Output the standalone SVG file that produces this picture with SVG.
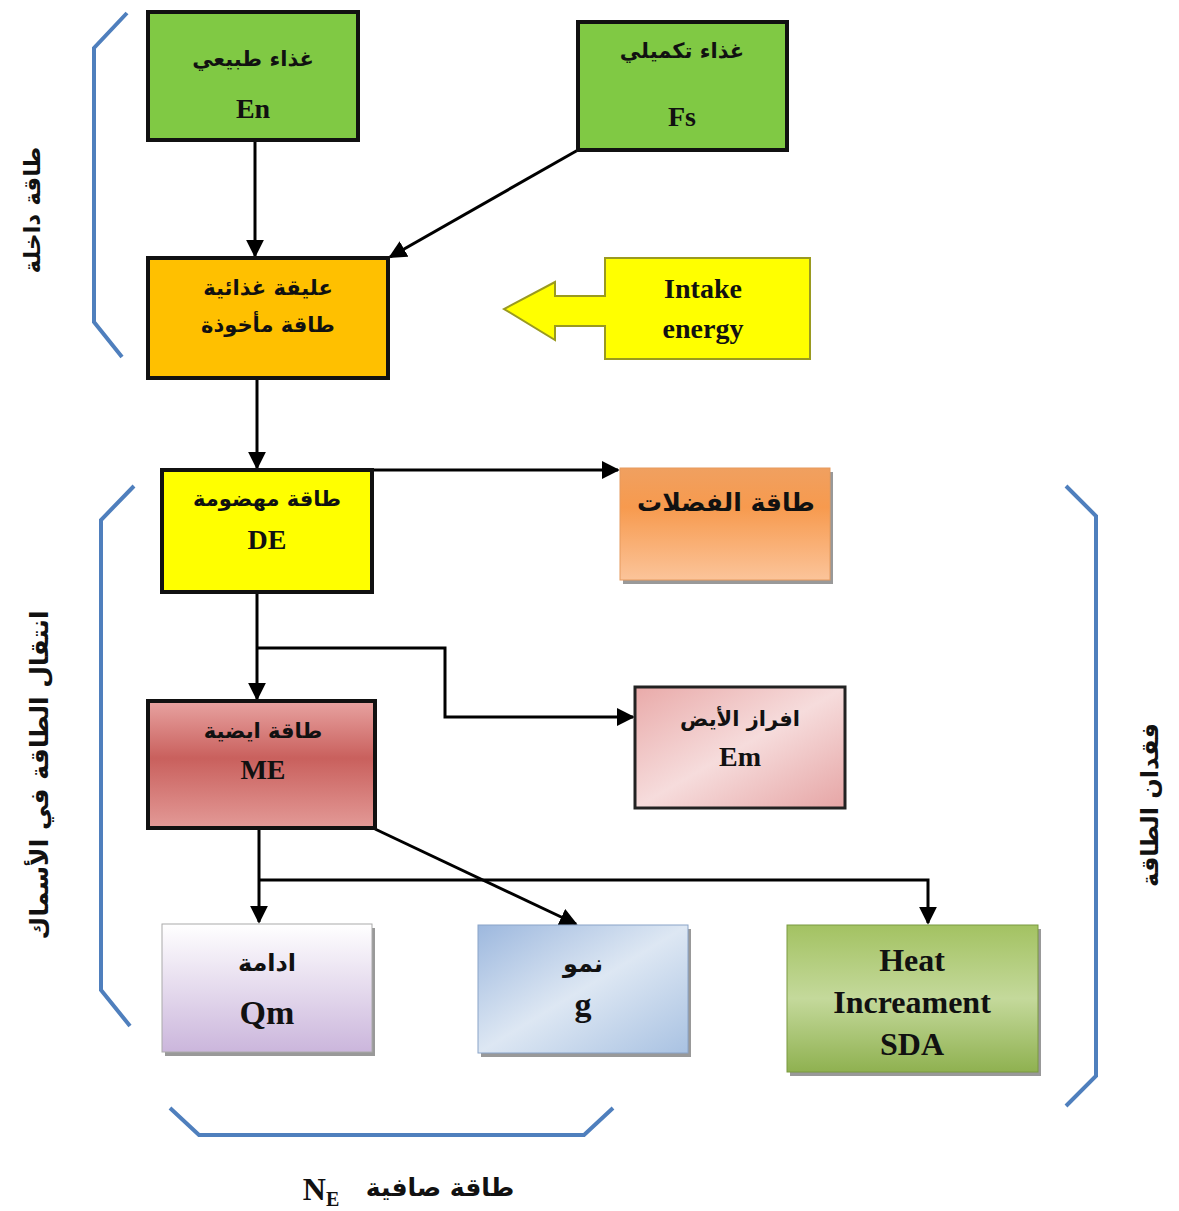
<svg xmlns="http://www.w3.org/2000/svg" width="1179" height="1211" viewBox="0 0 1179 1211">
<defs>
<marker id="ah" viewBox="0 0 10 10" refX="9" refY="5" markerWidth="6" markerHeight="6" orient="auto" markerUnits="strokeWidth"><path d="M0,0 L10,5 L0,10 z" fill="#000"/></marker>
<linearGradient id="gWaste" x1="0" y1="0" x2="0" y2="1"><stop offset="0" stop-color="#f0a060"/><stop offset="0.35" stop-color="#f79a4e"/><stop offset="1" stop-color="#fbc49a"/></linearGradient>
<linearGradient id="gME" x1="0" y1="0" x2="0" y2="1"><stop offset="0" stop-color="#e8a3a1"/><stop offset="0.45" stop-color="#c9605d"/><stop offset="1" stop-color="#e39a97"/></linearGradient>
<linearGradient id="gEm" x1="0" y1="0" x2="1" y2="1"><stop offset="0" stop-color="#e9aaa9"/><stop offset="0.5" stop-color="#f6dcdc"/><stop offset="1" stop-color="#e6a5a5"/></linearGradient>
<linearGradient id="gQm" x1="0" y1="0" x2="0" y2="1"><stop offset="0" stop-color="#ffffff"/><stop offset="1" stop-color="#cbb6dc"/></linearGradient>
<linearGradient id="gG" x1="0" y1="0" x2="1" y2="1"><stop offset="0" stop-color="#9db8de"/><stop offset="0.5" stop-color="#dde7f3"/><stop offset="1" stop-color="#a9c2e2"/></linearGradient>
<linearGradient id="gHeat" x1="0" y1="0" x2="0" y2="1"><stop offset="0" stop-color="#a3c262"/><stop offset="0.5" stop-color="#c4d99b"/><stop offset="1" stop-color="#8fb150"/></linearGradient>
</defs>
<style>
.box{stroke:#111;stroke-width:4}
.sh{fill:#555;opacity:0.6}
.ar{font-family:"DejaVu Sans","Noto Sans",sans-serif;font-weight:bold;fill:#111;text-anchor:middle}
.en{font-family:"Liberation Serif","Times New Roman",serif;font-weight:bold;fill:#111;text-anchor:middle}
.con{fill:none;stroke:#000;stroke-width:3}
.br{fill:none;stroke:#4f7fbd;stroke-width:4}
</style>
<rect width="1179" height="1211" fill="#fff"/>

<g id="brackets">
<path class="br" d="M127,13 L94,48 L94,322 L122,357"/>
<path class="br" d="M134,486 L101,520 L101,990 L130,1026"/>
<path class="br" d="M1066,486 L1096,516 L1096,1076 L1066,1106"/>
<path class="br" d="M170,1108 L199,1135 L584,1135 L613,1108"/>
</g>

<g id="side-labels">
<text class="ar" font-size="23" transform="translate(40,210) rotate(-90)">طاقة داخلة</text>
<text class="ar" font-size="25" transform="translate(48,775) rotate(-90)">انتقال الطاقة في الأسماك</text>
<text class="ar" font-size="24" transform="translate(1158,805) rotate(-90)">فقدان الطاقة</text>
<text class="ar" font-size="25" x="440" y="1196">طاقة صافية</text>
<text class="en" font-size="32" x="321" y="1200">N<tspan font-size="20" dy="6">E</tspan></text>
</g>

<g id="connectors">
<line class="con" x1="255" y1="141" x2="255" y2="256" marker-end="url(#ah)"/>
<line class="con" x1="578" y1="150" x2="390" y2="257" marker-end="url(#ah)"/>
<line class="con" x1="257" y1="379" x2="257" y2="468" marker-end="url(#ah)"/>
<line class="con" x1="372" y1="470" x2="618" y2="470" marker-end="url(#ah)"/>
<line class="con" x1="257" y1="593" x2="257" y2="699" marker-end="url(#ah)"/>
<polyline class="con" points="257,648 445,648 445,717 633,717" marker-end="url(#ah)"/>
<line class="con" x1="259" y1="829" x2="259" y2="922" marker-end="url(#ah)"/>
<polyline class="con" points="259,880 928,880 928,923" marker-end="url(#ah)"/>
<line class="con" x1="375" y1="829" x2="576" y2="924" marker-end="url(#ah)"/>
</g>

<g id="node-en">
<rect class="box" x="148" y="12" width="210" height="128" fill="#80c944"/>
<text class="ar" font-size="21" x="253" y="66">غذاء طبيعي</text>
<text class="en" font-size="28" x="253" y="118">En</text>
</g>

<g id="node-fs">
<rect class="box" x="578" y="22" width="209" height="128" fill="#80c944"/>
<text class="ar" font-size="21" x="682" y="58">غذاء تكميلي</text>
<text class="en" font-size="28" x="682" y="126">Fs</text>
</g>

<g id="node-intake">
<rect class="box" x="148" y="258" width="240" height="120" fill="#ffc000"/>
<text class="ar" font-size="21" x="268" y="295">عليقة غذائية</text>
<text class="ar" font-size="21" x="268" y="332">طاقة مأخوذة</text>
</g>

<g id="node-intake-energy">
<path d="M605,258 L810,258 L810,359 L605,359 L605,326 L555,326 L555,340 L504,309 L555,282 L555,296 L605,296 Z" fill="#ffff00" stroke="#9a9a20" stroke-width="2"/>
<text class="en" font-size="28" x="703" y="298">Intake</text>
<text class="en" font-size="28" x="703" y="338">energy</text>
</g>

<g id="node-de">
<rect class="box" x="162" y="470" width="210" height="122" fill="#ffff00"/>
<text class="ar" font-size="21" x="267" y="506">طاقة مهضومة</text>
<text class="en" font-size="28" x="267" y="549">DE</text>
</g>

<g id="node-waste">
<rect class="sh" x="623" y="472" width="210" height="112"/>
<rect x="620" y="468" width="210" height="112" fill="url(#gWaste)" stroke="#e59a5e" stroke-width="1"/>
<text class="ar" font-size="25" x="726" y="511">طاقة الفضلات</text>
</g>

<g id="node-me">
<rect class="box" x="148" y="701" width="227" height="127" fill="url(#gME)" stroke="#3a1a1a"/>
<text class="ar" font-size="21" x="263" y="738">طاقة ايضية</text>
<text class="en" font-size="28" x="263" y="779">ME</text>
</g>

<g id="node-em">
<rect x="635" y="687" width="210" height="121" fill="url(#gEm)" stroke="#222" stroke-width="3"/>
<text class="ar" font-size="21" x="740" y="726">افراز الأيض</text>
<text class="en" font-size="28" x="740" y="766">Em</text>
</g>

<g id="node-qm">
<rect class="sh" x="165" y="928" width="210" height="128"/>
<rect x="162" y="924" width="210" height="128" fill="url(#gQm)" stroke="#aaa" stroke-width="1"/>
<text class="ar" font-size="24" x="267" y="971">ادامة</text>
<text class="en" font-size="34" x="267" y="1024">Qm</text>
</g>

<g id="node-g">
<rect class="sh" x="481" y="929" width="210" height="128"/>
<rect x="478" y="925" width="210" height="128" fill="url(#gG)" stroke="#8aa4c8" stroke-width="1"/>
<text class="ar" font-size="24" x="583" y="972">نمو</text>
<text class="en" font-size="34" x="583" y="1016">g</text>
</g>

<g id="node-heat">
<rect class="sh" x="790" y="929" width="251" height="147"/>
<rect x="787" y="925" width="251" height="147" fill="url(#gHeat)" stroke="#7a9a40" stroke-width="1"/>
<text class="en" font-size="32" x="912" y="971">Heat</text>
<text class="en" font-size="32" x="912" y="1013">Increament</text>
<text class="en" font-size="32" x="912" y="1055">SDA</text>
</g>
</svg>
